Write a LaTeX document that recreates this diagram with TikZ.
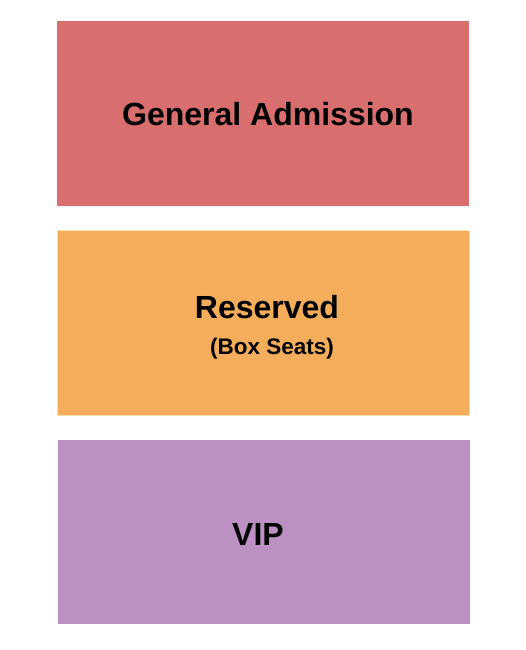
\documentclass[tikz,border=0pt]{standalone}
\usepackage{fontspec}
\setmainfont{Liberation Sans}
\usetikzlibrary{positioning}
\definecolor{gacol}{HTML}{D86E6E}
\definecolor{rescol}{HTML}{F4AD5A}
\definecolor{vipcol}{HTML}{BC90C3}
\definecolor{resedge}{HTML}{F8E0A8}

\begin{document}
\begin{tikzpicture}[x=1pt,y=-1pt,
  section/.style={minimum width=412pt,minimum height=184.5pt,inner sep=0pt,anchor=north west},
  big/.style={font=\fontsize{32}{36}\selectfont\bfseries},
  small/.style={font=\fontsize{22.5}{26}\selectfont\bfseries}]
  \useasboundingbox (0,0) rectangle (525,650);
  \node[section,fill=gacol] (ga) at (57,21) {};
  \node[section,fill=rescol,draw=resedge,line width=1pt] (res) at (57,230) {};
  \node[section,fill=vipcol] (vip) at (58,439.5) {};
  \node[big] (galabel) at (268,114) {General Admission};
  \node[big] (reslabel) at (267,307) {Reserved};
  \node[small] (boxlabel) at (272,349) {(Box Seats)};
  \node[big] (viplabel) at (258,534) {VIP};
\end{tikzpicture}
\end{document}
